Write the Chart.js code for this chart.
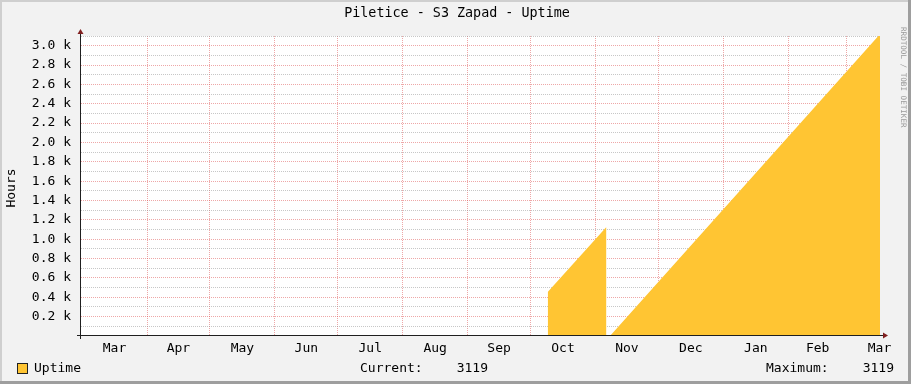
<!DOCTYPE html>
<html>
<head>
<meta charset="utf-8">
<script src="https://cdn.jsdelivr.net/npm/chart.js@4/dist/chart.umd.min.js"></script>
<style>
  html, body { margin: 0; padding: 0; background: #f2f2f2; }
  canvas { display: block; }
</style>
</head>
<body>
<canvas id="uptimeChart" width="911" height="384"></canvas>
<script>
// ===== Data =====
// x = days since 1 Mar, y = uptime in hours
const uptimeDays  = [-0.5, 222.3, 222.3, 250.1, 250.1, 251.9, 380.75];
const uptimeHours = [0,    0,     456,   1125,  0,     0,     3119];

const monthNames  = ['Mar', 'Apr', 'May', 'Jun', 'Jul', 'Aug', 'Sep', 'Oct', 'Nov', 'Dec', 'Jan', 'Feb', 'Mar'];
const monthStarts = [0, 31, 61, 92, 122, 153, 184, 214, 245, 275, 306, 337, 365, 396];

const currentValue = 3119;
const maximumValue = 3119;

// ===== Colours (rrdtool defaults) =====
const BACK   = '#f2f2f2';
const SHADEA = '#cfcfcf';
const SHADEB = '#9e9e9e';
const GRID   = 'rgba(143,143,143,0.5)';
const MGRID  = 'rgba(222,79,79,0.5)';
const AXIS   = '#1f1f1f';
const ARROW  = '#801f1f';
const AREA   = '#ffc533';
const FONT   = '13px "DejaVu Sans Mono", monospace';

const monthMids = monthNames.map((n, i) => (monthStarts[i] + monthStarts[i + 1]) / 2);
const points = uptimeDays.map((d, i) => ({ x: d, y: uptimeHours[i] }));

// ---------- frame, canvas, title, legend ----------
const rrdDecor = {
  id: 'rrdDecor',
  beforeDraw(chart) {
    const { ctx, width, height, chartArea: a } = chart;
    ctx.save();
    ctx.fillStyle = BACK;
    ctx.fillRect(0, 0, width, height);
    ctx.fillStyle = SHADEA;
    ctx.fillRect(0, 0, width, 2);
    ctx.fillRect(0, 0, 2, height);
    ctx.fillStyle = SHADEB;
    ctx.fillRect(0, height - 3, width, 3);
    ctx.fillRect(width - 3, 0, 3, height);
    ctx.fillStyle = '#ffffff';
    ctx.fillRect(a.left, a.top, a.right - a.left, a.bottom - a.top);
    ctx.restore();
  },
  afterDraw(chart) {
    const { ctx, chartArea: a } = chart;
    ctx.save();

    // axes
    ctx.strokeStyle = AXIS;
    ctx.lineWidth = 1;
    ctx.beginPath();
    ctx.moveTo(a.left - 0.5, a.bottom + 3);
    ctx.lineTo(a.left - 0.5, a.top - 4);
    ctx.moveTo(a.left - 4, a.bottom - 0.5);
    ctx.lineTo(a.right + 5, a.bottom - 0.5);
    ctx.stroke();

    // arrows
    ctx.fillStyle = ARROW;
    ctx.beginPath();
    ctx.moveTo(a.left - 0.5, a.top - 7);
    ctx.lineTo(a.left - 3.5, a.top - 2);
    ctx.lineTo(a.left + 2.5, a.top - 2);
    ctx.closePath();
    ctx.fill();
    ctx.beginPath();
    ctx.moveTo(a.right + 8, a.bottom - 0.5);
    ctx.lineTo(a.right + 3, a.bottom - 3.5);
    ctx.lineTo(a.right + 3, a.bottom + 2.5);
    ctx.closePath();
    ctx.fill();

    // title
    ctx.fillStyle = '#000';
    ctx.font = '13.4px "DejaVu Sans Mono", monospace';
    ctx.textAlign = 'center';
    ctx.textBaseline = 'middle';
    ctx.fillText('Piletice - S3 Zapad - Uptime', 457, 14);

    // vertical label
    ctx.font = FONT;
    ctx.save();
    ctx.translate(12, (a.top + a.bottom) / 2 + 2);
    ctx.rotate(-Math.PI / 2);
    ctx.fillText('Hours', 0, 0);
    ctx.restore();

    // watermark
    ctx.save();
    ctx.fillStyle = '#9a9a9a';
    ctx.font = '7.6px "DejaVu Sans Mono", monospace';
    ctx.translate(903, 27);
    ctx.rotate(Math.PI / 2);
    ctx.textAlign = 'left';
    ctx.fillText('RRDTOOL / TOBI OETIKER', 0, 0);
    ctx.restore();

    // legend
    ctx.fillStyle = AREA;
    ctx.fillRect(17, 363, 11, 11);
    ctx.strokeStyle = '#222';
    ctx.strokeRect(17.5, 363.5, 10, 10);
    ctx.fillStyle = '#000';
    ctx.font = FONT;
    ctx.textAlign = 'left';
    ctx.fillText('Uptime', 34, 369);
    ctx.fillText('Current:', 360, 369);
    ctx.fillText('Maximum:', 766, 369);
    ctx.textAlign = 'right';
    ctx.fillText(String(currentValue), 488, 369);
    ctx.fillText(String(maximumValue), 894, 369);

    ctx.restore();
  }
};

new Chart(document.getElementById('uptimeChart'), {
  type: 'line',
  data: {
    datasets: [{
      label: 'Uptime',
      data: points,
      fill: 'origin',
      backgroundColor: AREA,
      borderColor: 'rgba(0,0,0,0)',
      borderWidth: 0,
      pointRadius: 0,
      tension: 0
    }]
  },
  options: {
    responsive: false,
    animation: false,
    devicePixelRatio: 1,
    layout: { padding: { left: 0, right: 31, top: 36, bottom: 0 } },
    plugins: { legend: { display: false }, tooltip: { enabled: false } },
    scales: {
      x: {
        type: 'linear',
        min: -0.5,
        max: 380.75,
        z: 1,
        afterFit: s => { s.height = 48; },
        afterBuildTicks: s => {
          const vals = monthStarts.filter(v => v <= 380.75).concat(monthMids);
          s.ticks = vals.sort((p, q) => p - q).map(v => ({ value: v }));
        },
        border: { display: false, dash: [1, 1] },
        grid: {
          drawTicks: false,
          color: c => (c.tick && monthStarts.includes(c.tick.value) && c.tick.value > 0) ? MGRID : 'rgba(0,0,0,0)'
        },
        ticks: {
          autoSkip: false,
          maxRotation: 0,
          padding: 5,
          color: '#000',
          font: { family: '"DejaVu Sans Mono", monospace', size: 13 },
          callback: v => {
            const i = monthMids.indexOf(v);
            return i >= 0 ? monthNames[i] : '';
          }
        }
      },
      y: {
        min: 0,
        max: 3100,
        z: 1,
        afterFit: s => { s.width = 81; },
        border: { display: false, dash: [1, 1] },
        grid: {
          drawTicks: false,
          color: c => {
            if (!c.tick || c.tick.value === 0) return 'rgba(0,0,0,0)';
            return c.tick.value % 200 === 0 ? MGRID : GRID;
          }
        },
        ticks: {
          stepSize: 100,
          autoSkip: false,
          padding: 10,
          color: '#000',
          font: { family: '"DejaVu Sans Mono", monospace', size: 13 },
          callback: v => (v > 0 && v % 200 === 0) ? (v / 1000).toFixed(1) + ' k' : ''
        }
      }
    }
  },
  plugins: [rrdDecor]
});
</script>
</body>
</html>
